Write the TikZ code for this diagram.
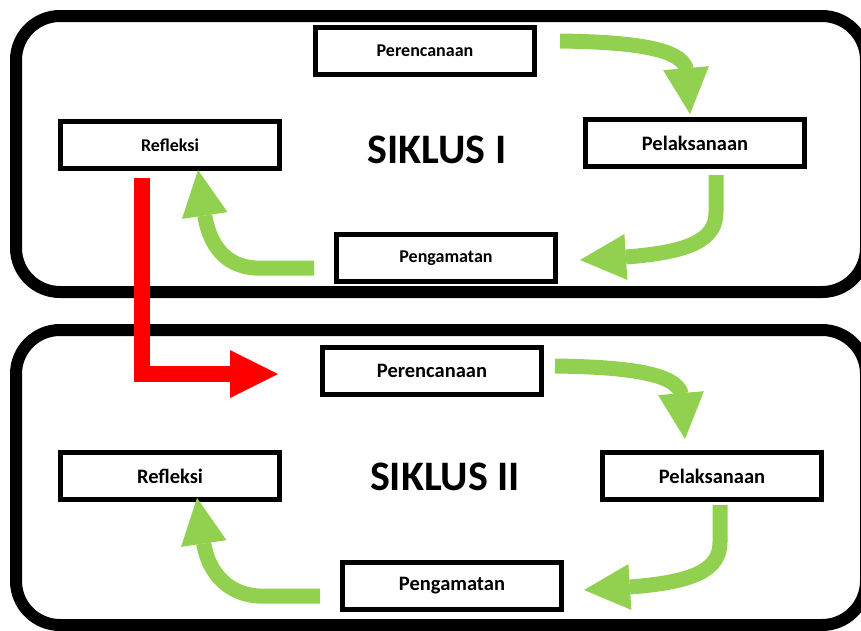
\documentclass[tikz,border=0pt]{standalone}
\usepackage{fontspec}
\setmainfont{Carlito}
\usetikzlibrary{arrows.meta}
\definecolor{arrgreen}{RGB}{146,208,80}

\tikzset{
  frame/.style={draw=black, line width=12pt, rounded corners=44pt},
  stagebox/.style={draw=black, line width=5pt, fill=white, minimum width=219pt,
    minimum height=47pt, inner sep=0pt, font=\fontsize{18}{20}\selectfont\bfseries},
  stagebig/.style={stagebox, font=\fontsize{20.5}{22}\selectfont\bfseries},
  cyclelabel/.style={font=\fontsize{42}{46}\selectfont\bfseries},
  greenarrow/.style={draw=arrgreen, line width=15pt,
    -{Triangle[length=46pt,width=46pt,line width=0pt]}},
  redarrow/.style={draw=red, line width=16pt, line join=miter,
    -{Triangle[length=48pt,width=48pt,line width=0pt]}}
}

\begin{document}
\begin{tikzpicture}[x=1pt,y=-1pt]
        \useasboundingbox (0,0) rectangle (861,630);

        % the two cycles
        \draw[frame] (16,16) rectangle (866,292);
        \draw[frame] (16,330) rectangle (866,625);

        % siklus I
        \node[stagebox] (plan1) at (425,51) {Perencanaan};
        \node[stagebig] (act1) at (695,143) {Pelaksanaan};
        \node[stagebox] (obs1) at (446,258) {Pengamatan};
        \node[stagebox] (refl1) at (170,145) {Refleksi};
        \node[cyclelabel] (cyc1) at (437,150) {SIKLUS I};

        \draw[greenarrow] (560,41) .. controls (640,42) and (680,50) .. (686,68) -- (690,114);
        \draw[greenarrow] (716,175) -- (716,212) .. controls (716,240) and (690,252) .. (626,257) -- (580,260);
        \draw[greenarrow] (314,268) -- (255,268) .. controls (225,266) and (210,245) .. (205,217) -- (198,170);

        % siklus II
        \node[stagebig] (plan2) at (432,371) {Perencanaan};
        \node[stagebig] (act2) at (712,476) {Pelaksanaan};
        \node[stagebig] (obs2) at (452,586) {Pengamatan};
        \node[stagebig] (refl2) at (170,476) {Refleksi};
        \node[cyclelabel] (cyc2) at (445,477) {SIKLUS II};

        \draw[greenarrow] (555,366) .. controls (635,367) and (675,375) .. (681,393) -- (685,439);
        \draw[greenarrow] (720,505) -- (720,542) .. controls (720,570) and (694,582) .. (630,587) -- (584,590);
        \draw[greenarrow] (320,596) -- (258,596) .. controls (228,594) and (209,573) .. (204,545) -- (197,498);

        % from siklus I to siklus II
        \coordinate (down) at (142,178);
        \coordinate (turn) at (142,374);
        \coordinate (into2) at (278,374);
        \draw[redarrow] (down) -- (turn) -- (into2);
\end{tikzpicture}
\end{document}
